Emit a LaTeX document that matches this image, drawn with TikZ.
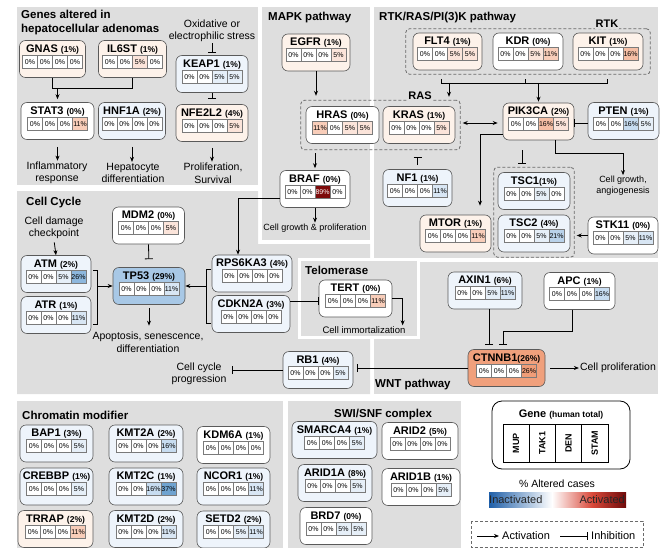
\documentclass[tikz,border=0pt]{standalone}
\usepackage{fontspec}
\setmainfont{Liberation Sans}
\usepackage{tikz}
\usetikzlibrary{arrows.meta, calc, positioning, fit}

\definecolor{panel}{HTML}{DEDEDE}
\definecolor{boxline}{HTML}{5A5A5A}
\definecolor{cellline}{HTML}{7A7A7A}
\definecolor{dashline}{HTML}{6A6A6A}
\definecolor{boxr}{HTML}{FDF2EA}
\definecolor{boxb}{HTML}{EEF4FB}
\definecolor{c0}{HTML}{FFFFFF}
\definecolor{r5}{HTML}{FBE4DA}
\definecolor{r11}{HTML}{F8CDB9}
\definecolor{r16}{HTML}{F5BEA4}
\definecolor{r26}{HTML}{EF9D78}
\definecolor{r89}{HTML}{7D0A0A}
\definecolor{b5}{HTML}{E6EFF8}
\definecolor{b11}{HTML}{D8E6F4}
\definecolor{b16}{HTML}{C7DCF0}
\definecolor{b21}{HTML}{B9D2EA}
\definecolor{b26}{HTML}{8DB7DD}
\definecolor{b37}{HTML}{6FA3D0}
\definecolor{tp}{HTML}{A8C8E6}
\definecolor{ct}{HTML}{F0A07C}
\definecolor{inact}{HTML}{1F5FA8}
\definecolor{actmid}{HTML}{D9493A}
\definecolor{actdark}{HTML}{6E0A0A}

\tikzstyle{genebox} = [rectangle, rounded corners=6pt, draw=boxline, line width=0.6pt, minimum width=70pt, minimum height=37pt, inner sep=0pt]
\tikzstyle{genename} = [inner sep=0pt, font=\fontsize{11}{12}\selectfont\bfseries]
\tikzstyle{cell} = [rectangle, draw=cellline, line width=0.5pt, minimum width=15pt, minimum height=13pt, inner sep=0pt, font=\fontsize{7}{8}\selectfont]
\tikzstyle{dashbox} = [rectangle, rounded corners=4pt, draw=dashline, dash pattern=on 3pt off 2pt, line width=0.8pt]
\tikzstyle{boxtag} = [fill=panel, inner sep=1pt, font=\fontsize{11}{12}\selectfont\bfseries]
\tikzstyle{txt} = [align=center, inner sep=1pt, font=\fontsize{10.5}{12.5}\selectfont]
\tikzstyle{smalltxt} = [align=center, inner sep=1pt, font=\fontsize{9}{11}\selectfont]
\tikzstyle{paneltitle} = [anchor=west, align=left, inner sep=0pt, font=\fontsize{11.5}{14}\selectfont\bfseries]
\tikzstyle{link} = [line width=0.8pt]
\tikzstyle{arrow} = [line width=0.8pt, -{Stealth[length=5pt, width=4pt]}]
\tikzstyle{dblarrow} = [line width=0.8pt, {Stealth[length=5pt, width=4pt]}-{Stealth[length=5pt, width=4pt]}]
\tikzstyle{inhibit} = [line width=0.8pt, -{Bar[width=8pt]}]
\tikzstyle{legcell} = [rectangle, draw=black, line width=0.6pt, rotate=90, minimum width=38pt, minimum height=26.25pt, inner sep=0pt, font=\fontsize{9}{10}\selectfont\bfseries]

\newcommand{\pctof}[1]{{\fontsize{8.5}{9}\selectfont(#1\%)}}
% gene box: [width]{name}{position}{title}{fill}{value/colour list}
\newcommand{\gene}[6][70]{%
  \node[genebox, minimum width=#1pt, fill=#5] (#2) at #3 {};
  \node[genename] (#2-name) at ([yshift=-9pt]#2.north) {#4};
  \foreach \pv/\pc [count=\i] in {#6}{
    \node[cell, fill=\pc] (#2-\i) at ([xshift={(\i-2.5)*15pt}, yshift=-21.5pt]#2.north) {\pv\%};
  }
}

\begin{document}
\begin{tikzpicture}[x=1pt, y=-1pt]
\useasboundingbox (0,0) rectangle (663,548);

% panels
\fill[panel] (17,7) rectangle (258,185);
\fill[panel] (262,7) rectangle (370,240);
\fill[panel] (374,7) rectangle (658,258);
\fill[panel] (17,191) -- (258,191) -- (258,244) -- (370,244) -- (370,394) -- (17,394) -- cycle;
\fill[panel] (374,262) rectangle (658,394);
\fill[panel, draw=white, line width=3pt] (299,259) rectangle (418,337);
\fill[panel] (17,401) rectangle (283,548);
\fill[panel] (288,401) rectangle (461,548);

\node[paneltitle] (tGenes) at (21,23) {Genes altered in\\hepatocellular adenomas};
\node[paneltitle] (tMAPK) at (268,18) {MAPK pathway};
\node[paneltitle] (tRTK) at (379,18) {RTK/RAS/PI(3)K pathway};
\node[paneltitle] (tCell) at (26,203) {Cell Cycle};
\node[paneltitle] (tTelo) at (305,270) {Telomerase};
\node[paneltitle] (tWNT) at (375,385) {WNT pathway};
\node[paneltitle] (tChrom) at (22,415) {Chromatin modifier};
\node[paneltitle] (tSWI) at (334,415) {SWI/SNF complex};

% hepatocellular adenomas
\gene[66]{GNAS}{(52.5,59)}{GNAS \pctof{1}}{boxr}{0/c0,0/c0,0/c0,0/c0}
\gene[68]{IL6ST}{(132.5,59)}{IL6ST \pctof{1}}{boxr}{0/c0,0/c0,5/r5,0/c0}
\gene[72]{KEAP1}{(212,74)}{KEAP1 \pctof{1}}{boxb}{0/c0,0/c0,5/b5,5/b5}
\gene[73]{STAT3}{(57.5,121)}{STAT3 \pctof{0}}{white}{0/c0,0/c0,0/c0,11/r11}
\gene[67]{HNF1A}{(132,121)}{HNF1A \pctof{2}}{boxb}{0/c0,0/c0,0/c0,0/c0}
\gene[72]{NFE2L2}{(212,123)}{NFE2L2 \pctof{4}}{boxr}{0/c0,0/c0,0/c0,5/r5}
\node[txt] (stress) at (212,31) {Oxidative or\\electrophilic stress};
\node[txt] (inflam) at (57,173) {Inflammatory\\response};
\node[txt] (hepato) at (133,173) {Hepatocyte\\differentiation};
\node[txt] (prolsurv) at (213,173) {Proliferation,\\Survival};
\draw[link] (GNAS.south) -- ++(0,11) coordinate (gjoin) -| (IL6ST.south);
\draw[arrow, shorten >=3pt] (gjoin -| STAT3.north) -- (STAT3.north);
\draw[inhibit, shorten >=2pt] (stress.south) -- (KEAP1.north);
\draw[inhibit, shorten >=5pt] (KEAP1.south) -- (NFE2L2.north);
\draw[arrow, shorten <=7pt] (STAT3.south) -- (STAT3.south |- inflam.north);
\draw[arrow, shorten <=7pt] (HNF1A.south) -- (HNF1A.south |- hepato.north);
\draw[arrow, shorten <=6pt] (NFE2L2.south) -- (NFE2L2.south |- prolsurv.north);

% MAPK
\gene[68]{EGFR}{(316,52.5)}{EGFR \pctof{1}}{boxr}{0/c0,0/c0,0/c0,5/r5}
\gene[73]{HRAS}{(342.5,125)}{HRAS \pctof{0}}{white}{11/r11,0/c0,5/r5,5/r5}
\gene[72]{KRAS}{(419,125)}{KRAS \pctof{1}}{boxr}{0/c0,0/c0,0/c0,5/r5}
\node[dashbox, fit=(HRAS)(KRAS), inner xsep=5pt, inner ysep=6pt] (RAS) {};
\node[boxtag] (RAStag) at (420,96) {RAS};
\gene[70]{BRAF}{(315,189)}{BRAF \pctof{0}}{white}{0/c0,0/c0,\color{white}89/r89,0/c0}
\node[smalltxt] (growth) at (315,228) {Cell growth \& proliferation};
\draw[arrow, shorten >=4pt] (EGFR.south) -- (EGFR.south |- RAS.north);
\draw[arrow, shorten <=3pt, shorten >=2pt] (RAS.south -| BRAF.north) -- (BRAF.north);
\draw[arrow] (BRAF.south) -- (BRAF.south |- growth.north);

% RTK/RAS/PI(3)K
\gene[69]{FLT4}{(447.5,51.5)}{FLT4 \pctof{1}}{boxr}{0/c0,0/c0,5/r5,5/r5}
\gene[70]{KDR}{(528,51.5)}{KDR \pctof{0}}{white}{0/c0,0/c0,5/r5,11/r11}
\gene[70]{KIT}{(608,51.5)}{KIT \pctof{1}}{boxr}{0/c0,0/c0,0/c0,16/r16}
\node[dashbox, fit=(FLT4)(KDR)(KIT), inner xsep=7pt, inner ysep=4pt] (RTK) {};
\node[boxtag] (RTKtag) at (607,24) {RTK};
\gene[71]{PIK3CA}{(538.5,121.5)}{PIK3CA \pctof{2}}{boxr}{0/c0,0/c0,16/r16,5/r5}
\gene[71]{PTEN}{(623.5,121)}{PTEN \pctof{1}}{boxb}{0/c0,0/c0,16/b16,5/b5}
\gene[69]{NF1}{(417.5,188)}{NF1 \pctof{1}}{boxb}{0/c0,0/c0,0/c0,11/b11}
\gene[71]{MTOR}{(455.5,233.5)}{MTOR \pctof{1}}{boxr}{0/c0,0/c0,0/c0,11/r11}
\gene[72]{TSC1}{(534,191)}{TSC1\pctof{1}}{boxb}{0/c0,0/c0,5/b5,0/c0}
\gene[72]{TSC2}{(534,233.5)}{TSC2 \pctof{4}}{boxb}{0/c0,0/c0,5/b5,21/b21}
\node[dashbox, fit=(TSC1)(TSC2), inner xsep=4pt, inner ysep=5pt] (TSC) {};
\gene[70]{STK11}{(623,235.5)}{STK11 \pctof{0}}{white}{0/c0,0/c0,5/b5,11/b11}
\node[smalltxt] (angio) at (623,186) {Cell growth,\\angiogenesis};
\coordinate (rtkL) at (441,83);
\coordinate (rtkM) at (525,83);
\coordinate (rtkR) at (607,83);
\coordinate (rtkA) at (449,83);
\draw[link] (rtkL) ++(0,-4) -- (rtkL) -- (rtkR) -- ++(0,-4);
\draw[link] (rtkM) -- ++(0,-4);
\draw[arrow, shorten >=3pt] (rtkA) -- (rtkA |- RAS.north);
\draw[arrow, shorten >=1pt] (rtkM -| PIK3CA.north) -- (PIK3CA.north);
\draw[dblarrow, shorten <=2pt, shorten >=5pt] (RAS.east |- 0,123) -- (PIK3CA.west |- 0,123);
\draw[inhibit] (PTEN.west |- 0,123) -- (PIK3CA.east |- 0,123);
\draw[arrow, shorten >=9pt] (PIK3CA.west |- 0,134) -| ([xshift=24.5pt]MTOR.north);
\draw[inhibit, shorten <=10pt, shorten >=3pt] ([xshift=-16.5pt]PIK3CA.south) -- ([xshift=-16.5pt]PIK3CA.south |- TSC.north);
\draw[arrow] ([xshift=16.5pt]PIK3CA.south) -- ++(0,13) -| (angio.north);
\draw[inhibit, shorten <=4pt, shorten >=7pt] (NF1.north) -- (NF1.north |- RAS.south);
\draw[arrow, shorten >=2pt] (STK11.west) -- (STK11.west -| TSC.east);

% cell cycle
\node[txt] (damage) at (54,228) {Cell damage\\checkpoint};
\gene[70]{ATM}{(56,274)}{ATM \pctof{2}}{boxb}{0/c0,0/c0,5/b5,26/b26}
\gene[70]{ATR}{(56,315)}{ATR \pctof{1}}{boxb}{0/c0,0/c0,0/c0,11/b11}
\gene[72]{MDM2}{(148.5,225.5)}{MDM2 \pctof{0}}{white}{0/c0,0/c0,0/c0,5/r5}
\gene[72]{TP53}{(149,286)}{TP53 \pctof{29}}{tp}{0/c0,0/c0,0/c0,11/b11}
\gene[80]{RPS6KA3}{(252,273.5)}{RPS6KA3 \pctof{4}}{boxb}{0/c0,0/c0,0/c0,0/c0}
\gene[78]{CDKN2A}{(251,314)}{CDKN2A \pctof{3}}{boxb}{0/c0,0/c0,0/c0,0/c0}
\gene[70]{RB1}{(318,370)}{RB1 \pctof{4}}{boxb}{0/c0,0/c0,0/c0,5/b5}
\node[txt] (apop) at (148,342) {Apoptosis, senescence,\\differentiation};
\node[txt] (ccprog) at (199,374) {Cell cycle\\progression};
\draw[arrow, shorten <=2pt] (damage.south) -- (ATM.north);
\draw[link] ([xshift=2pt]ATM.east |- ATM-1.north) -| ([xshift=6pt]ATR.east |- ATR-1.south) -- ([xshift=2pt]ATR.east |- ATR-1.south);
\draw[arrow] ([xshift=6pt]ATM.east |- TP53.west) -- (TP53.west);
\draw[inhibit, shorten >=8pt] (MDM2.south) -- (TP53.north);
\draw[arrow, shorten <=3pt, shorten >=5pt] (TP53.south) -- (TP53.south |- apop.north);
\draw[link] ([xshift=-1pt]RPS6KA3.west |- RPS6KA3-1.north) -| ([xshift=-5pt]CDKN2A.west |- CDKN2A-1.south) -- ([xshift=-1pt]CDKN2A.west |- CDKN2A-1.south);
\draw[arrow] ([xshift=-5pt]RPS6KA3.west |- TP53.east) -- (TP53.east);
\draw[arrow] (BRAF.west |- BRAF-1.south) -| ([xshift=-14pt]RPS6KA3.north);
\draw[inhibit] (RB1.west) -- ([xshift=4pt]ccprog.east |- RB1.west);

% telomerase
\gene[73]{TERT}{(355.5,298.5)}{TERT \pctof{0}}{white}{0/c0,0/c0,0/c0,11/r11}
\node[txt, font=\fontsize{9.5}{11}\selectfont] (immort) at (364,330) {Cell immortalization};
\draw[inhibit] (CDKN2A.east |- TERT-1.west) -- (TERT.west |- TERT-1.west);
\draw[arrow] (TERT.east) -| ([xshift=-4pt]immort.north east);

% WNT
\gene[74]{AXIN1}{(485,290.5)}{AXIN1 \pctof{6}}{boxb}{0/c0,0/c0,5/b5,11/b11}
\gene[71]{APC}{(579.5,291)}{APC \pctof{1}}{white}{0/c0,0/c0,0/c0,16/b16}
\gene[77]{CTNNB1}{(506.5,368)}{CTNNB1\pctof{26}}{ct}{0/c0,0/c0,0/c0,26/r26}
\node[txt] (prolif) at (618,368) {Cell proliferation};
\draw[inhibit, shorten >=4pt] ([xshift=4pt]AXIN1.south) -- ([xshift=4pt]AXIN1.south |- CTNNB1.north);
\draw[inhibit, shorten >=4pt] ([xshift=-7.5pt]APC.south) -- ++(0,22) -| ([xshift=-3.5pt]CTNNB1.north);
\draw[arrow, shorten <=5pt] (CTNNB1.east) -- (prolif.west);
\draw[inhibit, shorten >=4pt] (CTNNB1.west) -- (CTNNB1.west -| RB1.east);

% chromatin modifier
\gene[73]{BAP1}{(56.5,443.5)}{BAP1 \pctof{3}}{boxb}{0/c0,0/c0,0/c0,5/b5}
\gene[74]{KMT2A}{(146,443.5)}{KMT2A \pctof{2}}{boxb}{0/c0,0/c0,0/c0,16/b16}
\gene[73]{KDM6A}{(233.5,445)}{KDM6A \pctof{1}}{white}{0/c0,0/c0,0/c0,0/c0}
\gene[73]{CREBBP}{(56.5,486.5)}{CREBBP \pctof{1}}{boxb}{0/c0,0/c0,0/c0,5/b5}
\gene[74]{KMT2C}{(146,486.5)}{KMT2C \pctof{1}}{boxb}{0/c0,0/c0,16/b16,37/b37}
\gene[73]{NCOR1}{(233.5,486.5)}{NCOR1 \pctof{1}}{boxb}{0/c0,0/c0,0/c0,11/b11}
\gene[75]{TRRAP}{(55.5,529)}{TRRAP \pctof{2}}{boxr}{0/c0,0/c0,0/c0,11/r11}
\gene[74]{KMT2D}{(146,529)}{KMT2D \pctof{2}}{boxb}{0/c0,0/c0,0/c0,11/b11}
\gene[73]{SETD2}{(233.5,529.5)}{SETD2 \pctof{2}}{boxb}{0/c0,0/c0,5/b5,11/b11}

% SWI/SNF
\gene[85]{SMARCA4}{(334.5,440)}{SMARCA4 \pctof{1}}{boxb}{0/c0,0/c0,0/c0,5/b5}
\gene[76]{ARID2}{(420,441)}{ARID2 \pctof{5}}{white}{0/c0,0/c0,0/c0,0/c0}
\gene[74]{ARID1A}{(335,483)}{ARID1A \pctof{8}}{boxb}{0/c0,0/c0,0/c0,5/b5}
\gene[78]{ARID1B}{(421,487)}{ARID1B \pctof{1}}{white}{0/c0,0/c0,0/c0,5/b5}
\gene[72]{BRD7}{(336,526)}{BRD7 \pctof{0}}{white}{0/c0,0/c0,5/b5,5/b5}

% legend
\node[rectangle, rounded corners=10pt, draw=black, line width=0.8pt, minimum width=138pt, minimum height=68pt] (legend) at (561,435) {};
\node[genename] (legname) at (561,415) {Gene {\fontsize{8.5}{9}\selectfont(human total)}};
\foreach \t [count=\i] in {MUP,TAK1,DEN,STAM}
  \node[legcell] (leg-\i) at ({503+(\i-0.5)*26.25}, 443) {\t};
\node[txt] (altered) at (557,484) {\% Altered cases};
\shade[left color=inact, right color=white] (489,492) rectangle (552,507);
\shade[left color=white, right color=actmid] (552,492) rectangle (592,507);
\shade[left color=actmid, right color=actdark] (592,492) rectangle (626,507);
\node[txt, anchor=west, font=\fontsize{11}{12}\selectfont, text=black!85] (inactTxt) at (488,500) {Inactivated};
\node[txt, anchor=east, font=\fontsize{11}{12}\selectfont, text=black!85] (actTxt) at (626,500) {Activated};
\draw[draw=dashline, dash pattern=on 3pt off 2pt, line width=0.8pt] (471,521) rectangle (643,547.5);
\coordinate (actS) at (477,536);
\coordinate (actE) at (499,536);
\coordinate (inhS) at (560,536);
\coordinate (inhE) at (588,536);
\draw[arrow] (actS) -- (actE);
\node[txt, anchor=west, font=\fontsize{11}{12}\selectfont] (actLab) at (501,536) {Activation};
\draw[inhibit] (inhS) -- (inhE);
\node[txt, anchor=west, font=\fontsize{11}{12}\selectfont] (inhLab) at (590,536) {Inhibition};
\end{tikzpicture}
\end{document}
